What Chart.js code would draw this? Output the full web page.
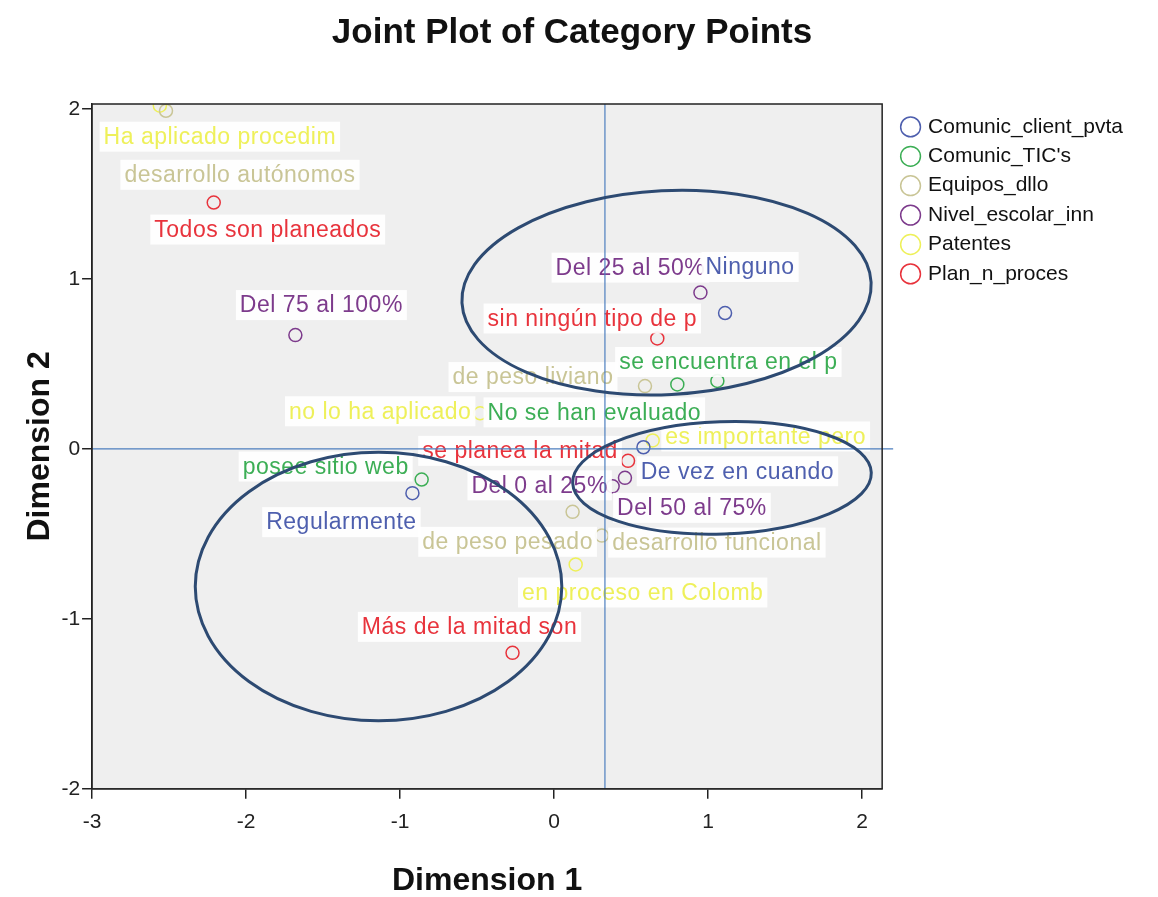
<!DOCTYPE html>
<html lang="es">
<head>
    <meta charset="UTF-8">
    <title>Joint Plot of Category Points</title>
    <script src="https://cdn.jsdelivr.net/npm/chart.js"></script>
    <style>
        html, body {
            margin: 0;
            padding: 0;
            background: #ffffff;
        }
        .chart-container {
            width: 1158px;
            height: 897px;
        }
    </style>
</head>
<body>
    <div class="chart-container">
        <canvas id="jointPlot"></canvas>
    </div>
    <script>
        // categories (legend entries)
        const categories = ['Comunic_client_pvta', "Comunic_TIC's", 'Equipos_dllo', 'Nivel_escolar_inn', 'Patentes', 'Plan_n_proces'];

        // category points (Dimension 1 / Dimension 2)
        const clientLabels = ['Ninguno', 'De vez en cuando', 'Regularmente'];
        const clientX = [1.11, 0.58, -0.92];
        const clientY = [0.80, 0.01, -0.26];

        const ticsLabels = ['posee sitio web', 'se encuentra en el p', 'No se han evaluado'];
        const ticsX = [-0.86, 1.06, 0.80];
        const ticsY = [-0.18, 0.40, 0.38];

        const equiposLabels = ['desarrollo autónomos', 'de peso liviano', 'de peso pesado', 'desarrollo funcional'];
        const equiposX = [-2.52, 0.59, 0.12, 0.31];
        const equiposY = [1.99, 0.37, -0.37, -0.51];

        const nivelLabels = ['Del 75 al 100%', 'Del 25 al 50%', 'Del 0 al 25%', 'Del 50 al 75%'];
        const nivelX = [-1.68, 0.95, 0.38, 0.46];
        const nivelY = [0.67, 0.92, -0.22, -0.17];

        const patentesLabels = ['Ha aplicado procedim', 'no lo ha aplicado', 'es importante pero', 'en proceso en Colomb'];
        const patentesX = [-2.56, -0.48, 0.64, 0.14];
        const patentesY = [2.02, 0.21, 0.05, -0.68];

        const planLabels = ['Todos son planeados', 'sin ningún tipo de p', 'se planea la mitad', 'Más de la mitad son'];
        const planX = [-2.21, 0.67, 0.48, -0.27];
        const planY = [1.45, 0.65, -0.07, -1.20];

        // axis ticks
        const xTicks = [-3, -2, -1, 0, 1, 2];
        const yTicks = [-2, -1, 0, 1, 2];

        // reference lines and the hand-drawn ellipses (data units)
        const refX = 0.33;
        const refY = 0;
        const ellipseCx = [0.73, 1.09, -1.14];
        const ellipseCy = [0.92, -0.17, -0.81];
        const ellipseRx = [1.33, 0.97, 1.19];
        const ellipseRy = [0.60, 0.33, 0.79];

        // styles
        const colors = ['#4e5fae', '#3cae55', '#c9c596', '#7d3b8c', '#eef05a', '#e8333c'];
        const ellipseTilt = [-0.05, -0.035, 0];
        // label placement relative to its point, in pixels
        const labelOffsets = {
            'Ninguno': [25, -46], 'De vez en cuando': [94, 24], 'Regularmente': [-71, 29],
            'posee sitio web': [-96, -13], 'se encuentra en el p': [11, -19], 'No se han evaluado': [-83, 28],
            'desarrollo autónomos': [74, 64], 'de peso liviano': [-112, -9], 'de peso pesado': [-65, 30], 'desarrollo funcional': [115, 7],
            'Del 75 al 100%': [26, -30], 'Del 25 al 50%': [-70, -25], 'Del 0 al 25%': [-73, -1], 'Del 50 al 75%': [67, 30],
            'Ha aplicado procedim': [60, 31], 'no lo ha aplicado': [-100, -2], 'es importante pero': [113, -4], 'en proceso en Colomb': [67, 28],
            'Todos son planeados': [54, 27], 'sin ningún tipo de p': [-65, -20], 'se planea la mitad': [-108, -10], 'Más de la mitad son': [-43, -26]
        };
        const labelOrder = [2, 4, 1, 3, 0, 5];

        const seriesLabels = [clientLabels, ticsLabels, equiposLabels, nivelLabels, patentesLabels, planLabels];
        const seriesX = [clientX, ticsX, equiposX, nivelX, patentesX, planX];
        const seriesY = [clientY, ticsY, equiposY, nivelY, patentesY, planY];

        const FONT = "'Liberation Sans', Arial, sans-serif";

        const datasets = categories.map((name, i) => ({
            label: name,
            data: seriesX[i].map((x, j) => ({ x: x, y: seriesY[i][j] })),
            borderColor: colors[i],
            backgroundColor: 'transparent',
            pointRadius: 6.5,
            pointHoverRadius: 6.5,
            pointBorderWidth: 1.5,
            pointStyle: 'circle'
        }));

        const plotDecor = {
            id: 'plotDecor',
            beforeLayout(chart) {
                // reserve some extra room on the legend's right side
                const lg = chart.legend;
                if (lg && !lg._wide) {
                    const fit = lg.fit;
                    lg.fit = function () { fit.call(this); this.width += 24; };
                    lg._wide = true;
                }
            },
            afterLayout(chart) {
                // line the legend up with the top of the plot frame, a little right of it
                const lg = chart.legend;
                if (lg) {
                    const h = lg.bottom - lg.top;
                    lg.left += 13;
                    lg.right += 13;
                    lg.top = chart.chartArea.top + 4;
                    lg.bottom = lg.top + h;
                }
            },
            beforeDatasetsDraw(chart) {
                const { ctx, chartArea: a } = chart;
                ctx.save();
                ctx.fillStyle = '#efefef';
                ctx.fillRect(a.left, a.top, a.right - a.left, a.bottom - a.top);
                ctx.restore();
            },
            afterDatasetsDraw(chart) {
                const { ctx, chartArea: a } = chart;
                const xs = chart.scales.x, ys = chart.scales.y;

                // point labels
                ctx.save();
                ctx.font = '23px ' + FONT;
                ctx.letterSpacing = '0.5px';
                ctx.textAlign = 'center';
                ctx.textBaseline = 'middle';
                labelOrder.forEach(i => {
                    const meta = chart.getDatasetMeta(i);
                    seriesLabels[i].forEach((text, j) => {
                        const pt = meta.data[j];
                        const off = labelOffsets[text] || [0, -22];
                        const lx = pt.x + off[0], ly = pt.y + off[1];
                        const w = ctx.measureText(text).width + 8;
                        ctx.fillStyle = 'rgba(255,255,255,0.92)';
                        ctx.fillRect(lx - w / 2, ly - 15, w, 30);
                        ctx.fillStyle = colors[i];
                        ctx.fillText(text, lx, ly + 1);
                    });
                });
                ctx.restore();

                // reference lines
                ctx.save();
                ctx.strokeStyle = '#4d7fbf';
                ctx.lineWidth = 1.2;
                ctx.beginPath();
                const px = xs.getPixelForValue(refX);
                ctx.moveTo(px, a.top);
                ctx.lineTo(px, a.bottom);
                const py = ys.getPixelForValue(refY);
                ctx.moveTo(a.left, py);
                ctx.lineTo(a.right + 11, py);
                ctx.stroke();
                ctx.restore();

                // plot frame
                ctx.save();
                ctx.strokeStyle = '#222';
                ctx.lineWidth = 1.5;
                ctx.strokeRect(a.left, a.top, a.right - a.left, a.bottom - a.top);
                ctx.restore();

                // ellipses
                ctx.save();
                ctx.strokeStyle = '#2d4a72';
                ctx.lineWidth = 3;
                ellipseCx.forEach((cx, k) => {
                    const cpx = xs.getPixelForValue(cx);
                    const cpy = ys.getPixelForValue(ellipseCy[k]);
                    const rpx = Math.abs(xs.getPixelForValue(cx + ellipseRx[k]) - cpx);
                    const rpy = Math.abs(ys.getPixelForValue(ellipseCy[k] + ellipseRy[k]) - cpy);
                    ctx.beginPath();
                    ctx.ellipse(cpx, cpy, rpx, rpy, ellipseTilt[k], 0, Math.PI * 2);
                    ctx.stroke();
                });
                ctx.restore();
            }
        };

        const ctx = document.getElementById('jointPlot').getContext('2d');
        new Chart(ctx, {
            type: 'scatter',
            data: { datasets: datasets },
            plugins: [plotDecor],
            options: {
                responsive: true,
                maintainAspectRatio: false,
                animation: false,
                layout: {
                    padding: { left: 0, right: 14, top: 0, bottom: 0 }
                },
                scales: {
                    x: {
                        type: 'linear',
                        min: -3.0,
                        max: 2.13,
                        afterBuildTicks: scale => { scale.ticks = xTicks.map(v => ({ value: v })); },
                        border: { display: true, color: '#222', width: 1.5 },
                        grid: { display: true, drawOnChartArea: false, drawTicks: true, tickLength: 10, color: '#222', lineWidth: 1.5 },
                        ticks: { color: '#222', font: { family: FONT, size: 21 }, padding: 11, maxRotation: 0 },
                        title: {
                            display: true,
                            text: 'Dimension 1',
                            color: '#111',
                            font: { family: FONT, size: 32, weight: 'bold', lineHeight: 1.0 },
                            padding: { top: 19, bottom: 0 }
                        }
                    },
                    y: {
                        type: 'linear',
                        min: -2.0,
                        max: 2.03,
                        afterBuildTicks: scale => { scale.ticks = yTicks.map(v => ({ value: v })); },
                        border: { display: true, color: '#222', width: 1.5 },
                        grid: { display: true, drawOnChartArea: false, drawTicks: true, tickLength: 10, color: '#222', lineWidth: 1.5 },
                        ticks: { color: '#222', font: { family: FONT, size: 21 }, padding: 2 },
                        title: {
                            display: true,
                            text: 'Dimension 2',
                            color: '#111',
                            font: { family: FONT, size: 32, weight: 'bold' },
                            padding: { top: 21, bottom: 0 }
                        }
                    }
                },
                plugins: {
                    title: {
                        display: true,
                        text: 'Joint Plot of Category Points',
                        color: '#111',
                        font: { family: FONT, size: 35, weight: 'bold' },
                        padding: { top: 12, bottom: 50 }
                    },
                    legend: {
                        display: true,
                        position: 'right',
                        align: 'start',
                        labels: {
                            usePointStyle: true,
                            pointStyle: 'circle',
                            boxWidth: 14,
                            boxHeight: 14,
                            padding: 8.4,
                            color: '#111',
                            font: { family: FONT, size: 21 }
                        }
                    },
                    tooltip: { enabled: false }
                }
            }
        });
    </script>
</body>
</html>
